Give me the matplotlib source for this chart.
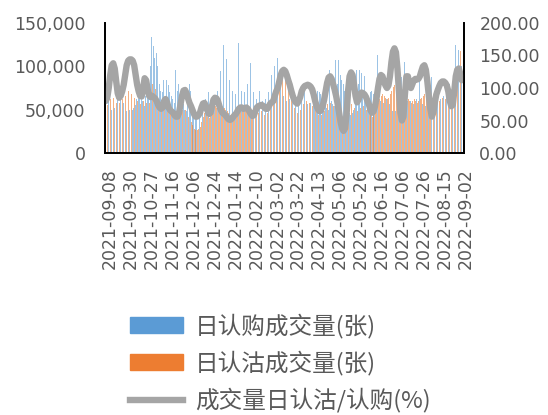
import numpy as np
import matplotlib
matplotlib.use('Agg')
import matplotlib.pyplot as plt
import matplotlib.transforms as mtransforms
from matplotlib.patches import Patch
from matplotlib.lines import Line2D
from matplotlib.ticker import FuncFormatter

# daily 50ETF option volumes, 2021-09-08 .. 2022-09-05
tick_labels = ['2021-09-08', '2021-09-30', '2021-10-27', '2021-11-16', '2021-12-06',
               '2021-12-24', '2022-01-14', '2022-02-10', '2022-03-02', '2022-03-22',
               '2022-04-13', '2022-05-06', '2022-05-26', '2022-06-16', '2022-07-06',
               '2022-07-26', '2022-08-15', '2022-09-02']
tick_step = 14

call_volume = [
    24000, 65000, 60000, 55000, 50000, 48000, 52000, 58000, 70000, 72000,
    68000, 64000, 58000, 52000, 48000, 46000, 50000, 48000, 50000, 52000,
    55000, 62000, 66000, 70000, 72000, 60000, 54000, 66000, 84000, 70000,
    100000, 134000, 123000, 110000, 115000, 100000, 80000, 72000, 70000, 84000,
    66000, 84000, 78000, 70000, 66000, 62000, 58000, 96000, 72000, 80000,
    60000, 54000, 56000, 50000, 48000, 60000, 80000, 72000, 52000, 45000,
    42000, 44000, 40000, 46000, 50000, 56000, 60000, 62000, 66000, 70000,
    68000, 62000, 60000, 64000, 66000, 72000, 104000, 95000, 104000, 125000,
    107000, 109000, 96000, 84000, 78000, 72000, 70000, 68000, 74000, 127000,
    90000, 72000, 68000, 70000, 100000, 80000, 101000, 104000, 80000, 70000,
    66000, 62000, 60000, 72000, 64000, 60000, 58000, 62000, 66000, 70000,
    97000, 90000, 104000, 100000, 123000, 110000, 96000, 80000, 72000, 66000,
    62000, 60000, 58000, 62000, 64000, 66000, 62000, 58000, 60000, 56000,
    52000, 60000, 121000, 80000, 60000, 56000, 54000, 58000, 62000, 77000,
    70000, 66000, 72000, 70000, 68000, 62000, 56000, 70000, 52000, 50000,
    96000, 60000, 56000, 54000, 107000, 80000, 107000, 90000, 84000, 80000,
    72000, 60000, 50000, 46000, 44000, 46000, 50000, 58000, 96000, 80000,
    96000, 92000, 70000, 89000, 62000, 64000, 66000, 70000, 72000, 68000,
    64000, 60000, 113000, 96000, 60000, 56000, 58000, 60000, 62000, 60000,
    56000, 50000, 48000, 46000, 48000, 54000, 62000, 80000, 88000, 90000,
    105000, 104000, 60000, 58000, 60000, 58000, 56000, 102000, 62000, 60000,
    89000, 97000, 56000, 52000, 54000, 105000, 70000, 80000, 88000, 84000,
    72000, 66000, 62000, 60000, 62000, 64000, 66000, 100000, 70000, 101000,
    80000, 84000, 80000, 72000, 125000, 80000, 119000, 117000, 100000, 98000,
]

put_volume = [
    20000, 55000, 58000, 62000, 66000, 64000, 62000, 58000, 60000, 58000,
    60000, 62000, 62000, 66000, 70000, 72000, 70000, 68000, 66000, 64000,
    62000, 60000, 58000, 56000, 58000, 60000, 62000, 58000, 62000, 58000,
    72000, 80000, 78000, 74000, 70000, 62000, 56000, 52000, 50000, 54000,
    52000, 56000, 52000, 48000, 44000, 40000, 38000, 42000, 40000, 44000,
    48000, 50000, 52000, 50000, 46000, 42000, 40000, 36000, 32000, 28000,
    26000, 26000, 28000, 30000, 36000, 42000, 46000, 44000, 42000, 40000,
    44000, 48000, 52000, 54000, 52000, 50000, 52000, 48000, 50000, 52000,
    50000, 48000, 46000, 44000, 42000, 42000, 44000, 44000, 46000, 48000,
    52000, 52000, 50000, 48000, 50000, 50000, 48000, 46000, 44000, 42000,
    44000, 46000, 46000, 48000, 48000, 46000, 44000, 44000, 46000, 50000,
    54000, 58000, 62000, 70000, 80000, 84000, 88000, 90000, 92000, 88000,
    84000, 80000, 74000, 68000, 62000, 58000, 52000, 48000, 46000, 48000,
    50000, 54000, 56000, 58000, 60000, 60000, 58000, 56000, 54000, 52000,
    50000, 46000, 44000, 42000, 44000, 46000, 48000, 52000, 56000, 58000,
    58000, 56000, 54000, 52000, 50000, 46000, 40000, 34000, 30000, 28000,
    30000, 38000, 48000, 54000, 56000, 54000, 52000, 50000, 48000, 50000,
    52000, 54000, 54000, 52000, 50000, 48000, 46000, 44000, 42000, 44000,
    48000, 52000, 58000, 62000, 66000, 68000, 66000, 64000, 62000, 64000,
    68000, 72000, 76000, 78000, 74000, 66000, 56000, 46000, 42000, 46000,
    52000, 58000, 62000, 60000, 58000, 60000, 62000, 60000, 58000, 60000,
    62000, 64000, 66000, 68000, 66000, 62000, 56000, 50000, 46000, 48000,
    52000, 56000, 58000, 60000, 62000, 64000, 64000, 62000, 60000, 58000,
    56000, 56000, 60000, 66000, 72000, 80000, 90000, 118000, 100000, 95000,
]

# put / call volume ratio, %
put_call_ratio = [
    80, 85, 100, 120, 135, 138, 130, 110, 92, 85,
    88, 95, 105, 120, 135, 142, 144, 144, 142, 135,
    120, 105, 95, 88, 87, 100, 115, 112, 98, 88,
    86, 88, 86, 84, 80, 74, 70, 68, 70, 80,
    83, 78, 70, 66, 64, 62, 58, 56, 56, 62,
    75, 88, 96, 97, 92, 84, 77, 72, 66, 60,
    56, 56, 58, 62, 70, 76, 77, 72, 65, 60,
    62, 72, 82, 85, 84, 80, 72, 66, 62, 60,
    58, 55, 52, 51, 52, 55, 58, 60, 64, 68,
    70, 70, 68, 69, 70, 68, 64, 60, 57, 58,
    64, 70, 72, 73, 74, 73, 70, 68, 68, 72,
    76, 78, 80, 88, 95, 100, 110, 120, 126, 128,
    126, 120, 112, 105, 96, 88, 82, 78, 76, 80,
    86, 95, 100, 103, 104, 105, 104, 102, 98, 90,
    80, 72, 67, 64, 66, 72, 82, 95, 108, 116,
    118, 114, 106, 98, 88, 76, 62, 48, 38, 34,
    38, 60, 95, 118, 124, 120, 105, 88, 78, 82,
    90, 93, 92, 90, 86, 80, 74, 66, 62, 64,
    72, 84, 100, 114, 120, 118, 110, 104, 100, 104,
    118, 140, 156, 161, 155, 130, 95, 62, 50, 56,
    90, 118, 118, 104, 100, 106, 112, 114, 113, 114,
    118, 126, 133, 135, 128, 110, 88, 68, 56, 62,
    78, 90, 97, 103, 108, 110, 110, 108, 104, 95,
    80, 72, 74, 95, 118, 128, 130, 122, 112, 115,
]

legend_labels = ['日认购成交量(张)', '日认沽成交量(张)', '成交量日认沽/认购(%)']

blue = '#5B9BD5'
orange = '#ED7D31'
grey = '#A5A5A5'
text_grey = '#595959'

fig = plt.figure(figsize=(5.48, 4.15), dpi=100)
ax = fig.add_axes([0.1916, 0.6313, 0.6551, 0.3133])

x = np.arange(len(call_volume))
ax.bar(x - 0.22, call_volume, width=0.45, color=blue, linewidth=0, alpha=0.6)
ax.bar(x + 0.22, put_volume, width=0.45, color=orange, linewidth=0, alpha=0.6)
ax.set_xlim(-0.5, len(x) - 0.5)
ax.set_ylim(0, 150000)
ax.set_yticks([0, 50000, 100000, 150000])
ax.yaxis.set_major_formatter(FuncFormatter(lambda v, p: f'{v:,.0f}'))
ax.set_xticks(x[::tick_step][:len(tick_labels)])
ax.set_xticklabels(tick_labels, rotation=90)
ax.tick_params(axis='x', length=0, pad=11, labelsize=12.5, labelcolor=text_grey)
ax.tick_params(axis='y', length=0, pad=14, labelsize=12.5, labelcolor=text_grey)
# excel puts the rotated dates a touch right of the category
shift = mtransforms.ScaledTranslation(0.04, 0, fig.dpi_scale_trans)
for lab in ax.get_xticklabels():
    lab.set_transform(lab.get_transform() + shift)

ax2 = ax.twinx()
ax2.plot(x, put_call_ratio, color=grey, lw=4.6, solid_joinstyle='round', solid_capstyle='round')
ax2.set_ylim(0, 200)
ax2.set_yticks([0, 50, 100, 150, 200])
ax2.yaxis.set_major_formatter(FuncFormatter(lambda v, p: f'{v:.2f}'))
ax2.tick_params(axis='y', length=0, pad=11, labelsize=12.5, labelcolor=text_grey)

for a in (ax, ax2):
    a.spines['top'].set_visible(False)
    for s in ('left', 'bottom', 'right'):
        a.spines[s].set_color('black')
        a.spines[s].set_linewidth(1.3)

handles = [Patch(color=blue), Patch(color=orange), Line2D([], [], color=grey, lw=4.6)]
fig.legend(handles, legend_labels, loc='upper left', bbox_to_anchor=(130 / 548, 0.245),
           frameon=False, prop={'family': ['Noto Sans CJK SC', 'DejaVu Sans'], 'size': 17},
           labelcolor=text_grey, handlelength=2.25, handleheight=0.65, handletextpad=0.5,
           labelspacing=0.52, borderpad=0, borderaxespad=0)

fig.savefig('out.png', dpi=100)
